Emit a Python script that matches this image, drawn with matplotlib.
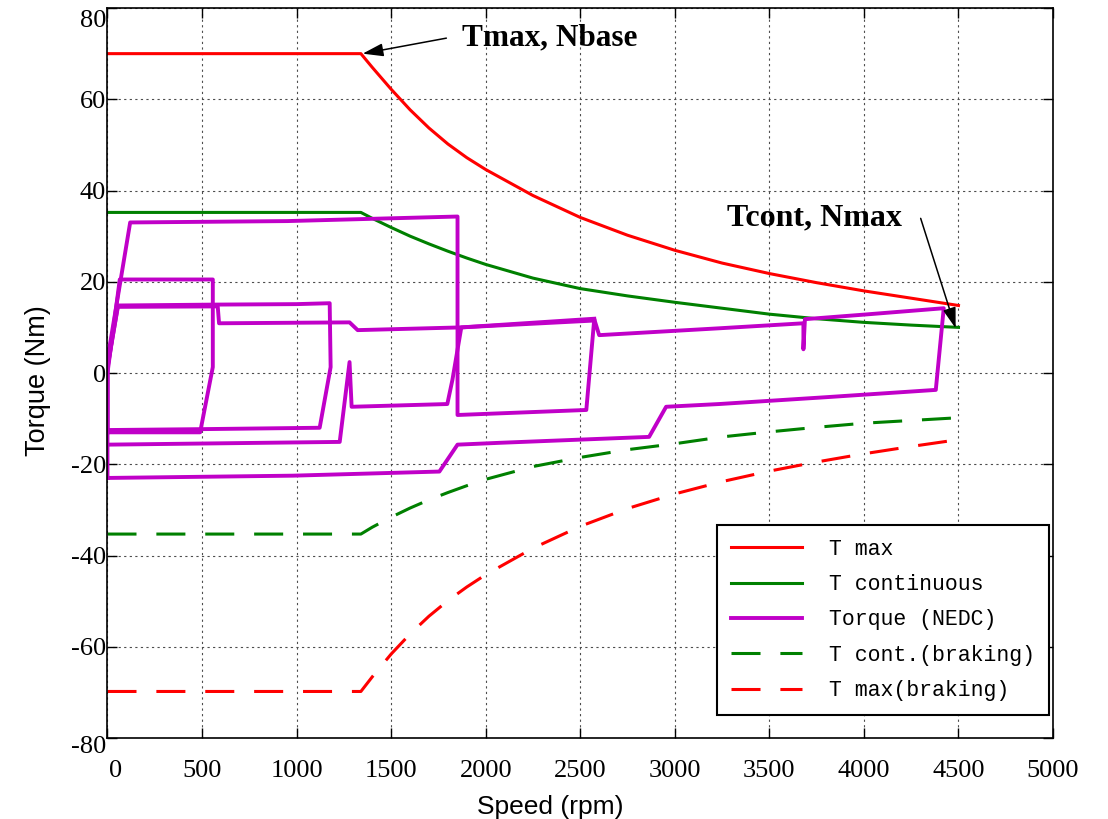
import matplotlib
matplotlib.use("Agg")
import matplotlib.pyplot as plt
from matplotlib.transforms import ScaledTranslation

plt.rcParams['axes.unicode_minus'] = False

# motor envelope (speed in rpm, torque in Nm)
speed_env = [0, 1340, 1400, 1500, 1600, 1700, 1800, 1900, 2000, 2250, 2500,
             2750, 3000, 3250, 3500, 3750, 4000, 4250, 4500]
t_max = [70, 70, 67.0, 62.2, 57.7, 53.7, 50.2, 47.2, 44.6, 38.9, 34.1,
         30.2, 26.9, 24.1, 21.8, 19.8, 18.0, 16.4, 14.8]
t_cont = [35.2, 35.2, 33.9, 31.9, 30.0, 28.3, 26.7, 25.2, 23.8, 20.8, 18.5,
          16.9, 15.5, 14.2, 12.9, 11.9, 11.1, 10.5, 10.0]
t_cont_brake = [-35.3, -35.3, -33.8, -31.6, -29.6, -27.8, -26.2, -24.7, -23.3, -20.5, -18.5,
                -16.8, -15.5, -14.0, -12.9, -11.9, -11.0, -10.4, -9.8]
t_max_brake = [-69.8, -69.8, -66.6, -61.6, -57.2, -53.3, -49.9, -46.9, -44.2, -38.4, -33.6,
               -29.7, -26.5, -23.8, -21.5, -19.5, -17.7, -16.1, -14.6]

# NEDC operating points, one polyline per part of the cycle
ece1_speed = [0, 0, 65, 557, 557, 490, 0]
ece1_torque = [-13.0, 0, 20.5, 20.5, 1.3, -13.0, -13.0]

ece2_speed = [0, 0, 55, 583, 1000, 1175, 1180, 1122, 500, 0]
ece2_torque = [-12.6, 1.0, 14.8, 15.0, 15.1, 15.3, 1.3, -12.0, -12.3, -12.5]

ece3_speed = [0, 55, 583, 590, 1280, 1323, 1871, 2574]
ece3_torque = [1.5, 14.5, 14.6, 10.9, 11.1, 9.4, 10.0, 11.5]

ece3_dec_speed = [0, 1228, 1280, 1291, 1797, 1824, 1871, 2574]
ece3_dec_torque = [-15.7, -15.1, 2.4, -7.4, -6.8, -1.5, 10.0, 11.9]

eudc_speed = [0, 0, 120, 950, 1851, 1851, 2532, 2574, 2600, 3234, 3680, 3680, 3688, 4000, 4422,
              4380, 3800, 3234, 2954, 2864, 2073, 1851, 1755, 980, 0]
eudc_torque = [-23.0, 3.0, 33.0, 33.3, 34.3, -9.2, -8.1, 11.8, 8.3, 9.8, 10.9, 5.2, 11.8, 12.8, 14.2,
               -3.7, -5.3, -6.8, -7.4, -14.0, -15.3, -15.7, -21.6, -22.5, -23.0]

red = '#FF0000'
green = '#008000'
purple = '#C000C8'
dash = (0, (9.5, 6.5))

fig = plt.figure(figsize=(11.08, 8.19), dpi=100)
ax = fig.add_axes([0.097, 0.0989, 0.8534, 0.8913])

ax.plot(speed_env, t_max, color=red, lw=2.2, label='T max')
ax.plot(speed_env, t_cont, color=green, lw=2.2, label='T continuous')
ax.plot(ece1_speed, ece1_torque, color=purple, lw=2.8, label='Torque (NEDC)')
ax.plot(ece2_speed, ece2_torque, color=purple, lw=2.8)
ax.plot(ece3_speed, ece3_torque, color=purple, lw=2.8)
ax.plot(ece3_dec_speed, ece3_dec_torque, color=purple, lw=2.8)
ax.plot(eudc_speed, eudc_torque, color=purple, lw=2.8)
ax.plot(speed_env, t_cont_brake, color=green, lw=2.2, ls=dash, label='T cont.(braking)')
ax.plot(speed_env, t_max_brake, color=red, lw=2.2, ls=dash, label='T max(braking)')

ax.set_xlim(0, 5000)
ax.set_ylim(-80, 80)
ax.set_xticks(range(0, 5001, 500))
ax.set_yticks(range(-80, 81, 20))
ax.grid(True, color='0.3', ls=(0, (2, 3)), lw=0.8)
ax.tick_params(direction='in', length=7, width=1, top=True, right=True, labelsize=19)
ax.tick_params(axis='x', pad=16)
ax.tick_params(axis='y', pad=1)
for lab in ax.get_xticklabels() + ax.get_yticklabels():
    lab.set_family('Liberation Serif')

# nudge the corner labels off the axis ends
xlabs = ax.get_xticklabels()
ylabs = ax.get_yticklabels()
xlabs[0].set_transform(xlabs[0].get_transform() + ScaledTranslation(0.08, 0, fig.dpi_scale_trans))
ylabs[0].set_transform(ylabs[0].get_transform() + ScaledTranslation(0, -0.06, fig.dpi_scale_trans))
ylabs[-1].set_transform(ylabs[-1].get_transform() + ScaledTranslation(0, -0.10, fig.dpi_scale_trans))

for s in ax.spines.values():
    s.set_linewidth(1.2)

ax.set_xlabel('Speed (rpm)', family='Liberation Sans', fontsize=19)
ax.set_ylabel('Torque (Nm)', family='Liberation Sans', fontsize=19.5)
ax.xaxis.set_label_coords(0.468, -0.078)
ax.yaxis.set_label_coords(-0.06, 0.49)

# arrows pointing at the base speed and max speed corners
arr = dict(arrowstyle='-|>,head_length=0.7,head_width=0.22', color='k', lw=1.1,
           shrinkA=0, shrinkB=0, mutation_scale=18)
ax.annotate('', xy=(1349, 70), xytext=(1792, 73.4), arrowprops=arr)
ax.text(1877, 73.4, 'Tmax, Nbase', family='Liberation Serif', weight='bold',
        fontsize=22.5, va='center', ha='left')
ax.annotate('', xy=(4485, 9.8), xytext=(4300, 33.9), arrowprops=arr)
ax.text(3276, 33.9, 'Tcont, Nmax', family='Liberation Serif', weight='bold',
        fontsize=23, va='center', ha='left')

leg = ax.legend(loc='upper left', bbox_to_anchor=(0.6446, 0.2923), borderaxespad=0,
                prop={'family': 'Liberation Mono', 'size': 15.5}, fancybox=False,
                framealpha=1, edgecolor='k', handlelength=3.3, handletextpad=1.25,
                labelspacing=0.67, borderpad=0.65)
leg.get_frame().set_linewidth(1.5)

fig.savefig('out.png', dpi=100)
